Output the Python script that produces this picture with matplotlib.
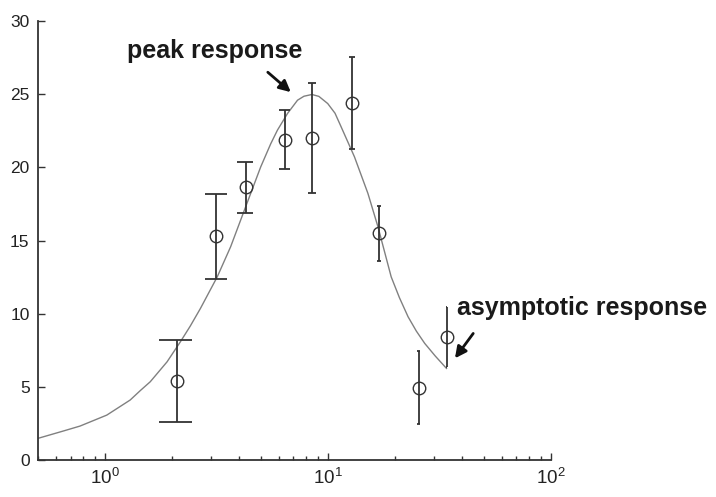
import matplotlib.pyplot as plt

plt.rcParams['font.family'] = ['Liberation Sans', 'DejaVu Sans']
plt.rcParams['mathtext.fontset'] = 'custom'
plt.rcParams['mathtext.rm'] = 'Liberation Sans'

# measured responses (mean +/- error)
x_data = [2.1, 3.16, 4.27, 6.4, 8.47, 12.8, 17.0, 25.5, 34.0]
y_data = [5.42, 15.3, 18.65, 21.9, 22.0, 24.4, 15.5, 4.95, 8.4]
y_err = [2.8, 2.9, 1.75, 2.0, 3.75, 3.15, 1.87, 2.5, 2.07]

# fitted tuning curve
fit_x = [0.50, 0.649, 0.772, 1.018, 1.296, 1.44, 1.595, 1.897, 2.177, 2.41, 2.678,
         3.186, 3.657, 4.27, 4.99, 5.53, 5.93, 6.58, 7.30, 7.80, 8.47, 9.10,
         9.97, 10.75, 11.45, 13.14, 15.10, 16.75, 19.2, 20.9, 22.86, 24.9,
         27.15, 30.3, 34.0]
fit_y = [1.48, 1.98, 2.32, 3.07, 4.10, 4.75, 5.35, 6.71, 8.08, 9.15, 10.36,
         12.52, 14.57, 17.30, 20.03, 21.6, 22.54, 23.68, 24.59, 24.86, 24.98, 24.85,
         24.36, 23.7, 22.77, 20.72, 18.22, 15.94, 12.52, 11.1, 9.79, 8.81,
         7.97, 7.1, 6.26]

fig = plt.figure(figsize=(7.16, 4.97), dpi=100)
ax = fig.add_axes([0.053, 0.0744, 0.7165, 0.8833])

ax.plot(fit_x, fit_y, color='#808080', lw=1.0)

ax.errorbar(x_data, y_data, yerr=y_err, fmt='o', color='#333333',
            mfc='none', ms=9, mew=1.0, elinewidth=1.3, capsize=0)
# MATLAB-style tees: fixed width in data units
tee = 0.35
for xi, yi, ei in zip(x_data, y_data, y_err):
    ax.hlines([yi - ei, yi + ei], xi - tee, xi + tee, color='#333333', lw=1.3)

ax.set_xscale('log')
ax.set_xlim(0.5, 100)
ax.set_ylim(0, 30)
ax.set_yticks([0, 5, 10, 15, 20, 25, 30])
ax.set_xticks([1, 10, 100])
ax.set_xticklabels([r'$10^0$', r'$10^1$', r'$10^2$'])

for s in ['top', 'right']:
    ax.spines[s].set_visible(False)
for s in ['left', 'bottom']:
    ax.spines[s].set_color('#333333')
    ax.spines[s].set_linewidth(1.3)

ax.tick_params(axis='both', which='major', direction='in', length=5,
               width=1.0, color='#333333', labelcolor='#222222', labelsize=12.5)
ax.tick_params(axis='x', which='minor', direction='in', length=3,
               width=1.0, color='#333333')
ax.tick_params(axis='x', which='major', pad=5, labelsize=13.5)
ax.tick_params(axis='y', which='major', pad=6)

arrow = dict(arrowstyle='-|>', color='#111111', lw=2.0, mutation_scale=17,
             shrinkA=0, shrinkB=0)
ax.annotate('', xy=(6.81, 25.14), xytext=(5.37, 26.5), arrowprops=arrow)
ax.text(3.10, 27.5, 'peak response', ha='center', va='baseline',
        fontsize=18, fontweight='bold', color='#1a1a1a')

ax.annotate('', xy=(37.1, 6.95), xytext=(44.8, 8.65), arrowprops=arrow)
ax.text(37.7, 9.9, 'asymptotic response', ha='left', va='baseline',
        fontsize=18, fontweight='bold', color='#1a1a1a', clip_on=False)

fig.savefig('out.png', dpi=100)
